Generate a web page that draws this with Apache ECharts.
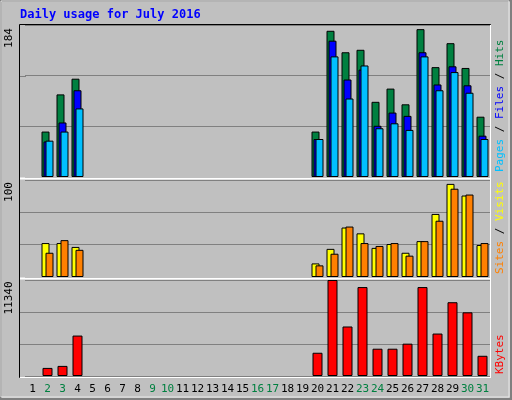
<!DOCTYPE html>
<html><head><meta charset="utf-8">
<script src="https://cdn.jsdelivr.net/npm/echarts@6/dist/echarts.min.js"></script>
<style>html,body{margin:0;padding:0;background:#c0c0c0}#c{width:512px;height:400px}</style>
</head><body><div id="c"></div>
<script>
var days = [];
for (var d = 1; d <= 31; d++) days.push(String(d));
var weekend = [2, 3, 9, 10, 16, 17, 23, 24, 30, 31];

// value per day, null = no data
var hits   = [null,55,100,119,null,null,null,null,null,null,null,null,null,null,null,null,null,null,null,55,177,151,154,91,107,88,179,133,162,132,73];
var files  = [null,43,66,105,null,null,null,null,null,null,null,null,null,null,null,null,null,null,null,46,165,118,130,62,78,74,151,112,134,111,50];
var pages  = [null,44,55,83,null,null,null,null,null,null,null,null,null,null,null,null,null,null,null,46,146,95,135,59,65,57,146,105,127,102,46];
var visits = [null,35,35,31,null,null,null,null,null,null,null,null,null,null,null,null,null,null,null,14,29,51,45,30,34,25,37,65,96,84,33];
var sites  = [null,25,38,28,null,null,null,null,null,null,null,null,null,null,null,null,null,null,null,12,24,52,35,32,35,22,37,58,91,85,35];
var kbytes = [null,955,1194,4775,null,null,null,null,null,null,null,null,null,null,null,null,null,null,null,2745,11340,5849,10504,3223,3223,3820,10504,5013,8714,7520,2387];
var maxTop = 184, maxMid = 100, maxBot = 11340;

var font = '"DejaVu Sans Mono", monospace';
var chart = echarts.init(document.getElementById('c'));

function bar(name, data, color, xi, extra) {
  var s = {name: name, type: 'bar', data: data, xAxisIndex: xi, yAxisIndex: xi,
    itemStyle: {color: color, borderColor: '#000', borderWidth: 1}, animation: false};
  for (var k in extra) s[k] = extra[k];
  return s;
}
function yAx(i, max) {
  return {gridIndex: i, min: 0, max: max, interval: max / 3, axisLabel: {show: false},
    axisLine: {show: false}, axisTick: {show: false},
    splitLine: {lineStyle: {color: '#808080', width: 1}}};
}
function xAx(i, show) {
  return {gridIndex: i, type: 'category', data: days, axisLine: {show: false}, axisTick: {show: false},
    axisLabel: {show: show, interval: 0, margin: 8, fontFamily: font, fontSize: 11,
      formatter: function (v) { return weekend.indexOf(+v) >= 0 ? '{w|' + v + '}' : '{n|' + v + '}'; },
      rich: {w: {color: '#008040', fontFamily: font, fontSize: 11}, n: {color: '#000', fontFamily: font, fontSize: 11}}}};
}
function vtext(x, y, parts) {
  return {type: 'text', x: x, y: y, rotation: Math.PI / 2,
    style: {rich: {a: {fill: '#00c0ff'}, b: {fill: '#0000ff'}, c: {fill: '#008040'}, d: {fill: '#ff8000'}, e: {fill: '#ffff00'}, f: {fill: '#ff0000'}, k: {fill: '#000'}},
      text: parts, font: '11px ' + font, align: 'left', verticalAlign: 'middle'}};
}
function gline(y) {
  return {type: 'line', shape: {x1: 20, y1: y, x2: 26, y2: y}, style: {stroke: '#808080', lineWidth: 1}};
}

chart.setOption({
  backgroundColor: '#c0c0c0',
  grid: [
    {left: 25, right: 22, top: 25, height: 152},
    {left: 25, right: 22, top: 180, height: 97},
    {left: 25, right: 22, top: 280, height: 96}
  ],
  xAxis: [xAx(0, false), xAx(1, false), xAx(2, true)],
  yAxis: [yAx(0, maxTop), yAx(1, maxMid), yAx(2, maxBot)],
  series: [
    bar('Hits', hits, '#008040', 0, {barWidth: 8, barGap: '-75%'}),
    bar('Files', files, '#0000ff', 0, {barWidth: 8, barGap: '-75%'}),
    bar('Pages', pages, '#00c0ff', 0, {barWidth: 8, barGap: '-75%'}),
    bar('Visits', visits, '#ffff00', 1, {barWidth: 8, barGap: '-50%'}),
    bar('Sites', sites, '#ff8000', 1, {barWidth: 8, barGap: '-50%'}),
    bar('KBytes', kbytes, '#ff0000', 2, {barWidth: 10})
  ],
  graphic: [
    {type: 'rect', shape: {x: 0.5, y: 0.5, width: 510, height: 398}, silent: true,
      style: {fill: null, stroke: '#000', lineWidth: 1}},
    {type: 'rect', shape: {x: 1, y: 1, width: 510, height: 398}, silent: true,
      style: {fill: null, stroke: '#808080', lineWidth: 2}},
    {type: 'rect', shape: {x: 1, y: 1, width: 508, height: 396}, silent: true,
      style: {fill: null, stroke: '#e8e8e8', lineWidth: 1}},
    {type: 'text', x: 20, y: 9, style: {text: 'Daily usage for July 2016', fill: '#0000ff', font: 'bold 12px ' + font}},
    gline(76.5), gline(126.5), gline(212.5), gline(244.5), gline(312.5), gline(344.5),
    {type: 'rect', shape: {x: 19.5, y: 24.5, width: 471, height: 353}, silent: true,
      style: {fill: null, stroke: '#000', lineWidth: 1}, z: 9},
    {type: 'line', shape: {x1: 20, y1: 178.5, x2: 490, y2: 178.5}, style: {stroke: '#fff', lineWidth: 2}, z: 10},
    {type: 'line', shape: {x1: 20, y1: 278.5, x2: 490, y2: 278.5}, style: {stroke: '#fff', lineWidth: 2}, z: 10},
    {type: 'line', shape: {x1: 20, y1: 377.5, x2: 490, y2: 377.5}, style: {stroke: '#fff', lineWidth: 1}, z: 10},
    {type: 'line', shape: {x1: 490.5, y1: 25, x2: 490.5, y2: 378}, style: {stroke: '#fff', lineWidth: 1}, z: 10},
    {type: 'text', x: 9, y: 38, rotation: Math.PI / 2, style: {text: String(maxTop), fill: '#000', font: '11px ' + font, align: 'center', verticalAlign: 'middle'}},
    {type: 'text', x: 9, y: 192, rotation: Math.PI / 2, style: {text: String(maxMid), fill: '#000', font: '11px ' + font, align: 'center', verticalAlign: 'middle'}},
    {type: 'text', x: 9, y: 298, rotation: Math.PI / 2, style: {text: String(maxBot), fill: '#000', font: '11px ' + font, align: 'center', verticalAlign: 'middle'}},
    vtext(500, 172, '{a|Pages}{k| / }{b|Files}{k| / }{c|Hits}'),
    vtext(500, 274, '{d|Sites}{k| / }{e|Visits}'),
    vtext(500, 374, '{f|KBytes}')
  ]
});
</script>
</body></html>
